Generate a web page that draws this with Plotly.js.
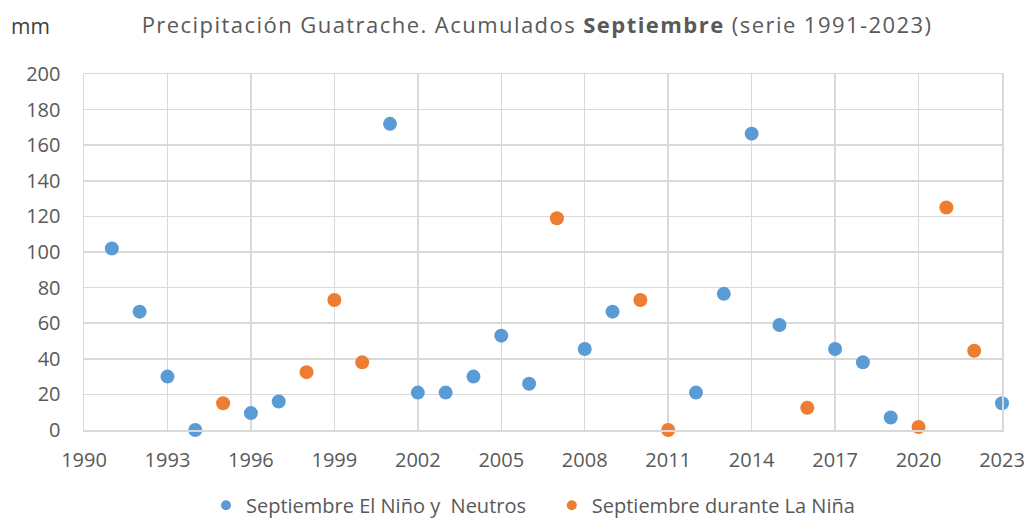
<!DOCTYPE html>
<html><head><meta charset="utf-8">
<script src="https://cdn.plot.ly/plotly-3.0.1.min.js"></script>
<style>html,body{margin:0;padding:0;background:#fff}#chart{width:1027px;height:522px}
.gtitle{letter-spacing:1.45px}</style>
</head><body><div id="chart"></div>
<script>
const ninoYears = [1991,1992,1993,1994,1996,1997,2001,2002,2003,2004,2005,2006,2008,2009,2012,2013,2014,2015,2017,2018,2019,2023];
const ninoValues = [102,66.5,30,0,9.5,16,172,21,21,30,53,26,45.5,66.5,21,76.5,166.5,59,45.5,38,7,15];
const ninaYears = [1995,1998,1999,2000,2007,2010,2011,2016,2020,2021,2022];
const ninaValues = [15,32.5,73,38,119,73,0,12.5,1.7,125,44.5];
const xTicks = [1990,1993,1996,1999,2002,2005,2008,2011,2014,2017,2020,2023];
const yTicks = [0,20,40,60,80,100,120,140,160,180,200];
const seriesNames = ['Septiembre El Niño y  Neutros','Septiembre durante La Niña'];
const seriesColors = ['#5B9BD5','#ED7D31'];

const FONT = '"Open Sans", sans-serif';
const traces = [
  {x: ninoYears, y: ninoValues, type:'scatter', mode:'markers', name: seriesNames[0], showlegend:false,
   marker:{color:seriesColors[0], size:14}, cliponaxis:false},
  {x: ninaYears, y: ninaValues, type:'scatter', mode:'markers', name: seriesNames[1], showlegend:false,
   marker:{color:seriesColors[1], size:14}, cliponaxis:false},
  {x:[null], y:[null], type:'scatter', mode:'markers', name: seriesNames[0] + '\u00a0\u00a0\u00a0\u00a0', marker:{color:seriesColors[0], size:10}},
  {x:[null], y:[null], type:'scatter', mode:'markers', name: seriesNames[1], marker:{color:seriesColors[1], size:10}}
];
const layout = {
  width:1027, height:522,
  margin:{l:84, r:25, t:74, b:92},
  paper_bgcolor:'#fff', plot_bgcolor:'#fff',
  font:{family:FONT, color:'#595959', size:20},
  title:{text:'Precipitación Guatrache. Acumulados <b>Septiembre</b> (serie 1991-2023)',
         x:0.523, xanchor:'center', y:0.952, yanchor:'middle', font:{size:22, color:'#595959', family:FONT}},
  xaxis:{range:[1990,2023], tickvals:xTicks, ticktext:xTicks.map(String), showgrid:true, gridcolor:'#D9D9D9', gridwidth:1.5,
         zeroline:false, showline:true, linecolor:'#D9D9D9', linewidth:1.5, mirror:true, ticks:'', ticklen:0,
         tickfont:{size:20}, ticklabelstandoff:11, automargin:false},
  yaxis:{range:[0,200], tickvals:yTicks, showgrid:true, gridcolor:'#D9D9D9', gridwidth:1.5,
         zeroline:false, showline:true, linecolor:'#D9D9D9', linewidth:1.5, mirror:true, ticks:'',
         tickfont:{size:20}, ticklabelstandoff:18, automargin:false},
  legend:{orientation:'h', x:0.519, xanchor:'center', xref:'container', yref:'container', y:0.032, yanchor:'middle',
          font:{size:20}, itemwidth:30},
  showlegend:true,
  annotations:[{text:'mm', xref:'paper', yref:'paper', x:-0.082, y:1.135, xanchor:'left', yanchor:'middle', showarrow:false,
                font:{size:21, color:'#404040', family:FONT}}]
};
Plotly.newPlot('chart', traces, layout, {displayModeBar:false, staticPlot:true});
</script></body></html>
